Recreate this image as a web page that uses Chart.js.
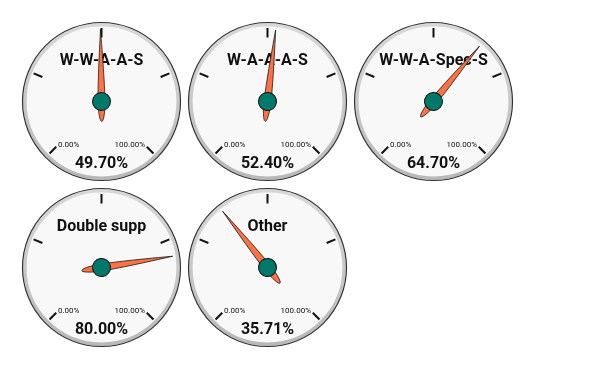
<!DOCTYPE html>
<html>
<head>
<meta charset="utf-8">
<script src="https://cdn.jsdelivr.net/npm/chart.js@4.4.1/dist/chart.umd.min.js"></script>
<style>
  body { margin: 0; background: #fff; width: 600px; height: 371px; position: relative; overflow: hidden; }
  canvas { position: absolute; }
</style>
</head>
<body>
<script>
const gaugeTitles = ["W-W-A-A-S", "W-A-A-A-S", "W-W-A-Spec-S", "Double supp", "Other"];
const gaugeValues = [49.70, 52.40, 64.70, 80.00, 35.71];
const rangeLabels = ["0.00%", "100.00%"];
const tickValues = [0, 25, 50, 75, 100];

const FONT = "Roboto, 'Liberation Sans', sans-serif";
const SWEEP = Math.PI * 1.5; // 270 degree dial

// draws dial face, ticks, texts and the needle on top of the (invisible) doughnut
const gaugePlugin = {
  id: "gauge",
  afterDatasetsDraw(chart) {
    const ctx = chart.ctx;
    const arc = chart.getDatasetMeta(0).data[0];
    const cx = arc.x, cy = arc.y, R = arc.outerRadius;
    const start = arc.startAngle;
    const needleAngle = arc.endAngle;
    const title = chart.options.plugins.gauge.title;
    const value = chart.options.plugins.gauge.value;

    ctx.save();
    // face
    ctx.beginPath();
    ctx.arc(cx, cy, R, 0, Math.PI * 2);
    ctx.fillStyle = "#f8f8f8";
    ctx.fill();
    const ring = ctx.createLinearGradient(0, cy - R, 0, cy + R);
    ring.addColorStop(0, "#d8d8d8");
    ring.addColorStop(1, "#b8b8b8");
    ctx.beginPath();
    ctx.arc(cx, cy, R - 2.3, 0, Math.PI * 2);
    ctx.lineWidth = 3.6;
    ctx.strokeStyle = ring;
    ctx.stroke();
    ctx.beginPath();
    ctx.arc(cx, cy, R, 0, Math.PI * 2);
    ctx.lineWidth = 1.2;
    ctx.strokeStyle = "#333";
    ctx.stroke();

    // ticks
    ctx.strokeStyle = "#111";
    ctx.lineWidth = 2;
    tickValues.forEach(t => {
      const a = start + (t / 100) * SWEEP;
      ctx.beginPath();
      ctx.moveTo(cx + Math.cos(a) * (R - 15), cy + Math.sin(a) * (R - 15));
      ctx.lineTo(cx + Math.cos(a) * (R - 5.5), cy + Math.sin(a) * (R - 5.5));
      ctx.stroke();
    });

    // texts
    ctx.fillStyle = "#111";
    ctx.textBaseline = "middle";
    ctx.font = "8px " + FONT;
    ctx.textAlign = "left";
    ctx.fillText(rangeLabels[0], cx - 43.5, cy + 43.5);
    ctx.textAlign = "right";
    ctx.fillText(rangeLabels[1], cx + 43.5, cy + 43.5);
    ctx.textAlign = "center";
    ctx.font = "bold 16px " + FONT;
    ctx.fillText(title, cx, cy - 41);
    ctx.fillText(value.toFixed(2) + "%", cx, cy + 62);

    // needle
    ctx.translate(cx, cy);
    ctx.rotate(needleAngle + Math.PI / 2);
    ctx.beginPath();
    ctx.moveTo(0, -72);
    ctx.quadraticCurveTo(4, -12, 3.4, 6);
    ctx.quadraticCurveTo(2.2, 20, 0, 20);
    ctx.quadraticCurveTo(-2.2, 20, -3.4, 6);
    ctx.quadraticCurveTo(-4, -12, 0, -72);
    ctx.fillStyle = "#ff7043";
    ctx.fill();
    ctx.lineWidth = 0.8;
    ctx.strokeStyle = "#222";
    ctx.stroke();

    // hub
    ctx.beginPath();
    ctx.arc(0, 0, 9, 0, Math.PI * 2);
    ctx.fillStyle = "#00796b";
    ctx.fill();
    ctx.lineWidth = 1;
    ctx.strokeStyle = "#111";
    ctx.stroke();
    ctx.restore();
  }
};

gaugeValues.forEach((v, i) => {
  const canvas = document.createElement("canvas");
  canvas.width = 167;
  canvas.height = 167;
  canvas.style.left = (18 + (i % 3) * 166) + "px";
  canvas.style.top = (18 + Math.floor(i / 3) * 166) + "px";
  document.body.appendChild(canvas);

  new Chart(canvas.getContext("2d"), {
    type: "doughnut",
    data: {
      labels: ["value", "rest", "gap"],
      datasets: [{
        // 100/3 gap leaves 90 degrees empty at the bottom
        data: [v, 100 - v, 100 / 3],
        backgroundColor: "rgba(0,0,0,0)",
        borderWidth: 0,
      }],
    },
    options: {
      responsive: false,
      animation: false,
      rotation: -135,
      radius: 79,
      cutout: "0%",
      layout: { padding: 0 },
      events: [],
      plugins: {
        legend: { display: false },
        tooltip: { enabled: false },
        gauge: { title: gaugeTitles[i], value: v },
      },
    },
    plugins: [gaugePlugin],
  });
});
</script>
</body>
</html>
